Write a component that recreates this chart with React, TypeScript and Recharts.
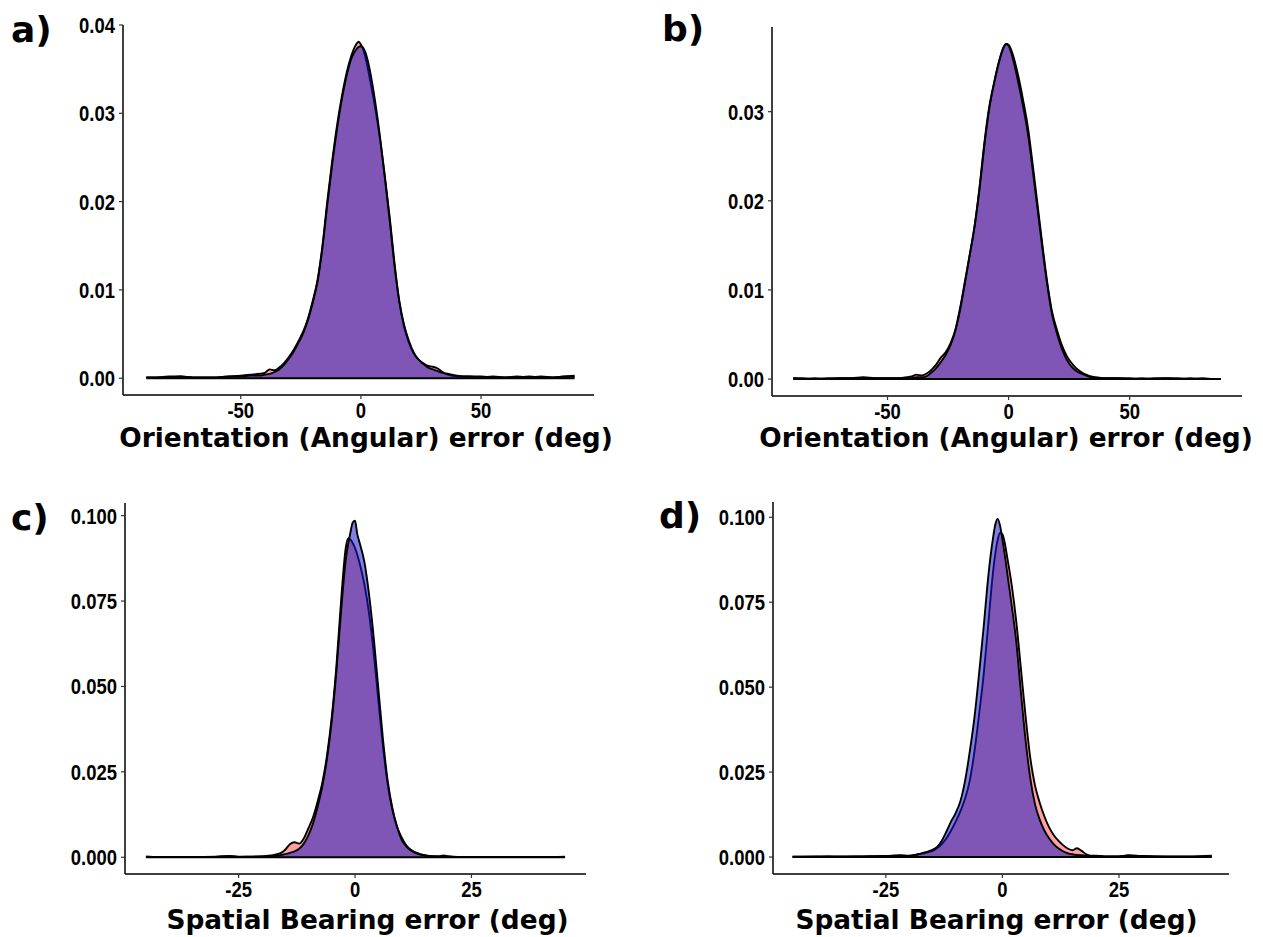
import { Area, AreaChart, ReferenceLine, XAxis, YAxis } from 'recharts';

// panel a: orientation error, first condition
const aX = [-89.3, -85, -80, -75, -70, -65, -60, -55, -50, -46, -42, -40, -38, -36, -34, -32, -30, -28, -26, -24, -22, -20, -18, -16, -14, -12, -10, -8, -6, -4, -2, -1, 0, 1, 2, 4, 6, 8, 10, 12, 14, 16, 18, 20, 22, 24, 26, 28, 30, 32, 34, 36, 40, 45, 50, 55, 60, 65, 70, 75, 80, 85, 88.9];
const aRed = [0.0001, 0.0001, 0.0002, 0.0002, 0.0001, 0.0001, 0.0001, 0.0002, 0.0003, 0.0004, 0.0005, 0.0006, 0.001, 0.0009, 0.0012, 0.0017, 0.0024, 0.0032, 0.0042, 0.0053, 0.0068, 0.0088, 0.0112, 0.015, 0.02, 0.0245, 0.0285, 0.0318, 0.0345, 0.0365, 0.0378, 0.0381, 0.0378, 0.0372, 0.0362, 0.0335, 0.0305, 0.027, 0.0228, 0.0182, 0.013, 0.0086, 0.0058, 0.004, 0.0028, 0.0021, 0.0017, 0.0014, 0.0013, 0.0011, 0.0007, 0.0004, 0.0002, 0.0002, 0.0001, 0.0002, 0.0001, 0.0002, 0.0001, 0.0002, 0.0001, 0.0002, 0.0003];
const aBlue = [0.0001, 0.0001, 0.0001, 0.0002, 0.0001, 0.0001, 0.0001, 0.0002, 0.0002, 0.0003, 0.0003, 0.0004, 0.0005, 0.0007, 0.001, 0.0015, 0.0022, 0.003, 0.004, 0.0051, 0.0066, 0.0086, 0.011, 0.0148, 0.0196, 0.0241, 0.0281, 0.0315, 0.0342, 0.0362, 0.0372, 0.0375, 0.0376, 0.0374, 0.0368, 0.0345, 0.0312, 0.0272, 0.0226, 0.0178, 0.0127, 0.0087, 0.006, 0.0042, 0.0029, 0.0021, 0.0016, 0.0012, 0.001, 0.0008, 0.0006, 0.0005, 0.0003, 0.0002, 0.0002, 0.0001, 0.0001, 0.0001, 0.0002, 0.0001, 0.0001, 0.0002, 0.0002];

// panel b: orientation error, second condition
const bX = [-89, -85, -80, -75, -70, -65, -60, -55, -50, -46, -42, -40, -38, -36, -34, -32, -30, -28, -26, -24, -22, -20, -18, -16, -14, -12, -10, -8, -6, -4, -2, -1, 0, 1, 2, 4, 6, 8, 10, 12, 14, 16, 18, 20, 22, 24, 26, 28, 30, 32, 34, 36, 40, 45, 50, 55, 60, 65, 70, 75, 80, 85, 87.6];
const bRed = [0.0001, 0.0001, 0, 0.0001, 0.0001, 0.0001, 0.0002, 0.0001, 0.0001, 0.0001, 0.0002, 0.0003, 0.0005, 0.0004, 0.0006, 0.001, 0.0016, 0.0024, 0.003, 0.004, 0.0055, 0.008, 0.011, 0.014, 0.0172, 0.0215, 0.0265, 0.0305, 0.0332, 0.0355, 0.0372, 0.0376, 0.0375, 0.037, 0.0362, 0.034, 0.0313, 0.0282, 0.024, 0.0195, 0.015, 0.0108, 0.0075, 0.0055, 0.0038, 0.0026, 0.0018, 0.0012, 0.0008, 0.0005, 0.0003, 0.0002, 0.0001, 0.0001, 0.0001, 0, 0.0001, 0.0001, 0, 0.0001, 0, 0, 0];
const bBlue = [0.0001, 0, 0.0001, 0, 0.0001, 0.0001, 0.0001, 0.0001, 0.0001, 0.0001, 0.0001, 0.0001, 0.0002, 0.0002, 0.0003, 0.0007, 0.0012, 0.0019, 0.0027, 0.0038, 0.0054, 0.0078, 0.0108, 0.014, 0.0172, 0.0213, 0.0262, 0.0303, 0.0332, 0.0356, 0.0373, 0.0376, 0.0374, 0.0367, 0.0357, 0.0333, 0.0306, 0.0275, 0.0234, 0.019, 0.0146, 0.0105, 0.0072, 0.0051, 0.0034, 0.0022, 0.0014, 0.0009, 0.0006, 0.0004, 0.0002, 0.0001, 0.0001, 0.0001, 0, 0.0001, 0, 0.0001, 0.0001, 0, 0.0001, 0, 0];

// panel c: spatial bearing error, first condition
const cX = [-44.9, -40, -35, -30, -27, -25, -22, -20, -18, -17, -16, -15, -14, -13, -12, -11, -10, -9, -8, -7, -6, -5, -4, -3, -2, -1.5, -1, -0.5, 0, 0.5, 1, 2, 3, 4, 5, 6, 7, 8, 9, 10, 11, 12, 13, 14, 15, 16, 18, 19, 20, 22, 25, 30, 35, 40, 45.1];
const cRed = [0.0002, 0.0001, 0.0001, 0.0002, 0.0004, 0.0002, 0.0002, 0.0003, 0.0005, 0.0008, 0.0012, 0.0022, 0.0038, 0.0044, 0.004, 0.0055, 0.0085, 0.0118, 0.0165, 0.022, 0.03, 0.041, 0.056, 0.075, 0.0905, 0.0933, 0.093, 0.092, 0.0905, 0.0885, 0.086, 0.08, 0.0715, 0.06, 0.046, 0.0325, 0.0215, 0.014, 0.009, 0.0058, 0.0035, 0.0022, 0.0014, 0.0009, 0.0006, 0.0004, 0.0003, 0.0005, 0.0003, 0.0001, 0.0001, 0.0001, 0.0001, 0.0001, 0.0002];
const cBlue = [0.0002, 0.0001, 0.0001, 0.0001, 0.0002, 0.0001, 0.0002, 0.0002, 0.0003, 0.0004, 0.0006, 0.0009, 0.0013, 0.0017, 0.0025, 0.004, 0.0065, 0.01, 0.015, 0.021, 0.029, 0.04, 0.0545, 0.072, 0.087, 0.0915, 0.095, 0.098, 0.0985, 0.0945, 0.092, 0.0865, 0.077, 0.0645, 0.0495, 0.0345, 0.0225, 0.0145, 0.009, 0.0052, 0.0032, 0.002, 0.0012, 0.0008, 0.0005, 0.0003, 0.0002, 0.0003, 0.0002, 0.0001, 0.0001, 0.0001, 0.0001, 0.0001, 0.0001];

// panel d: spatial bearing error, second condition
const dX = [-45, -40, -35, -30, -25, -22, -20, -18, -17, -16, -15, -14, -13, -12, -11, -10, -9, -8, -7, -6, -5, -4, -3, -2, -1.5, -1, -0.5, 0, 0.5, 1, 2, 3, 4, 5, 6, 7, 8, 9, 10, 11, 12, 13, 14, 15, 16, 17, 18, 19, 20, 22, 25, 27, 30, 35, 40, 44.9];
const dRed = [0.0001, 0.0001, 0.0002, 0.0002, 0.0003, 0.0004, 0.0003, 0.0008, 0.0011, 0.0014, 0.0018, 0.0026, 0.0038, 0.0055, 0.0078, 0.0105, 0.0135, 0.0172, 0.0225, 0.031, 0.042, 0.054, 0.069, 0.084, 0.0895, 0.0935, 0.0955, 0.095, 0.0925, 0.0885, 0.08, 0.069, 0.055, 0.041, 0.029, 0.021, 0.016, 0.012, 0.0088, 0.0065, 0.0048, 0.0035, 0.0025, 0.002, 0.0026, 0.0018, 0.0008, 0.0004, 0.0004, 0.0002, 0.0002, 0.0005, 0.0003, 0.0002, 0.0002, 0.0004];
const dBlue = [0.0001, 0.0002, 0.0001, 0.0002, 0.0003, 0.0005, 0.0004, 0.0008, 0.0012, 0.0016, 0.0021, 0.003, 0.0048, 0.0075, 0.0105, 0.013, 0.0165, 0.0225, 0.031, 0.041, 0.054, 0.068, 0.083, 0.094, 0.098, 0.0995, 0.0975, 0.0935, 0.089, 0.084, 0.074, 0.063, 0.048, 0.034, 0.023, 0.0155, 0.011, 0.0078, 0.0055, 0.0038, 0.0026, 0.0017, 0.0011, 0.0008, 0.0006, 0.0005, 0.0004, 0.0003, 0.0003, 0.0002, 0.0002, 0.0004, 0.0002, 0.0001, 0.0001, 0.0002];

const orientTicksX = [-50, 0, 50];
const orientTicksY = [0, 0.01, 0.02, 0.03, 0.04];
const bearingTicksX = [-25, 0, 25];
const bearingTicksY = [0, 0.025, 0.05, 0.075, 0.1];

const TICK_FONT = "'Liberation Sans', Arial, sans-serif";
const TITLE_FONT = "'DejaVu Sans', sans-serif";

const toRows = (xs: number[], red: number[], blue: number[]) =>
  xs.map((x, i) => ({ x, red: red[i], blue: blue[i] }));

// narrow bold tick labels, squeezed horizontally like the original figure
function makeTick(axis: 'x' | 'y', digits: number) {
  return (props: any) => {
    const { x, y, payload, textAnchor } = props;
    const label = axis === 'y' ? Number(payload.value).toFixed(digits) : String(payload.value);
    return (
      <text
        transform={`translate(${x},${y}) scale(0.84,1)`}
        textAnchor={textAnchor}
        dy={axis === 'y' ? '0.36em' : '0.72em'}
        style={{ fontFamily: TICK_FONT, fontSize: 22, fontWeight: 700, fill: '#000' }}
      >
        {label}
      </text>
    );
  };
}

interface PanelProps {
  title: string;
  xs: number[];
  red: number[];
  blue: number[];
  xDomain: [number, number];
  yDomain: [number, number];
  xTicks: number[];
  yTicks: number[];
  digits: number;
  left: number;
  top: number;
  width: number;
  height: number;
  yAxisWidth: number;
  xAxisHeight: number;
  marginTop: number;
  marginRight: number;
  titleDx: number;
  titleOffset: number;
}

function DensityPanel(p: PanelProps) {
  const data = toRows(p.xs, p.red, p.blue);
  const first = p.xs[0];
  const last = p.xs[p.xs.length - 1];

  const titleLabel = ({ viewBox }: any) => (
    <text
      x={viewBox.x + viewBox.width / 2 + p.titleDx}
      y={viewBox.y + viewBox.height - p.titleOffset}
      textAnchor="middle"
      style={{ fontFamily: TITLE_FONT, fontSize: 26.4, fontWeight: 700, fill: '#000' }}
    >
      {p.title}
    </text>
  );

  return (
    <div style={{ position: 'absolute', left: p.left, top: p.top }}>
      <AreaChart
        width={p.width}
        height={p.height}
        data={data}
        margin={{ top: p.marginTop, right: p.marginRight, left: 0, bottom: 0 }}
      >
        <XAxis
          type="number"
          dataKey="x"
          domain={p.xDomain}
          allowDataOverflow
          ticks={p.xTicks}
          height={p.xAxisHeight}
          tick={makeTick('x', 0)}
          tickSize={4}
          tickMargin={3}
          axisLine={{ stroke: '#000', strokeWidth: 1.5 }}
          tickLine={{ stroke: '#333', strokeWidth: 1.2 }}
          label={titleLabel}
        />
        <YAxis
          type="number"
          domain={p.yDomain}
          allowDataOverflow
          ticks={p.yTicks}
          width={p.yAxisWidth}
          tick={makeTick('y', p.digits)}
          tickSize={4}
          tickMargin={4}
          axisLine={{ stroke: '#000', strokeWidth: 1.5 }}
          tickLine={{ stroke: '#333', strokeWidth: 1.2 }}
        />
        <Area
          type="monotone"
          dataKey="red"
          baseValue={0}
          stroke="#000"
          strokeWidth={1.9}
          fill="#FF0000"
          fillOpacity={0.37}
          dot={false}
          activeDot={false}
          isAnimationActive={false}
        />
        <Area
          type="monotone"
          dataKey="blue"
          baseValue={0}
          stroke="#000"
          strokeWidth={1.9}
          fill="#1618C6"
          fillOpacity={0.55}
          dot={false}
          activeDot={false}
          isAnimationActive={false}
        />
        <ReferenceLine
          segment={[
            { x: first, y: 0 },
            { x: last, y: 0 },
          ]}
          stroke="#000"
          strokeWidth={2}
        />
      </AreaChart>
    </div>
  );
}

const letterStyle = { fontFamily: TITLE_FONT, fontSize: 36, fontWeight: 700, fill: '#000' };

export default function App() {
  return (
    <div
      style={{
        position: 'absolute',
        left: 0,
        top: 0,
        width: 1263,
        height: 937,
        background: '#fff',
        overflow: 'hidden',
      }}
    >
      <DensityPanel
        title="Orientation (Angular) error (deg)"
        xs={aX}
        red={aRed}
        blue={aBlue}
        xDomain={[-99, 97]}
        yDomain={[-0.0019, 0.04]}
        xTicks={orientTicksX}
        yTicks={orientTicksY}
        digits={2}
        left={0}
        top={0}
        width={620}
        height={465}
        yAxisWidth={123}
        xAxisHeight={70}
        marginTop={25}
        marginRight={26}
        titleDx={7.5}
        titleOffset={18}
      />
      <DensityPanel
        title="Orientation (Angular) error (deg)"
        xs={bX}
        red={bRed}
        blue={bBlue}
        xDomain={[-97.7, 96.4]}
        yDomain={[-0.0019, 0.0395]}
        xTicks={orientTicksX}
        yTicks={orientTicksY.slice(0, 4)}
        digits={2}
        left={630}
        top={0}
        width={633}
        height={465}
        yAxisWidth={142}
        xAxisHeight={69}
        marginTop={27}
        marginRight={21}
        titleDx={-1}
        titleOffset={18}
      />
      <DensityPanel
        title="Spatial Bearing error (deg)"
        xs={cX}
        red={cRed}
        blue={cBlue}
        xDomain={[-49.4, 49.6]}
        yDomain={[-0.0049, 0.1037]}
        xTicks={bearingTicksX}
        yTicks={bearingTicksY}
        digits={3}
        left={0}
        top={480}
        width={620}
        height={457}
        yAxisWidth={125}
        xAxisHeight={63}
        marginTop={23}
        marginRight={34}
        titleDx={12}
        titleOffset={8}
      />
      <DensityPanel
        title="Spatial Bearing error (deg)"
        xs={dX}
        red={dRed}
        blue={dBlue}
        xDomain={[-49.2, 48.6]}
        yDomain={[-0.005, 0.1045]}
        xTicks={bearingTicksX}
        yTicks={bearingTicksY}
        digits={3}
        left={630}
        top={480}
        width={633}
        height={457}
        yAxisWidth={143}
        xAxisHeight={63}
        marginTop={22}
        marginRight={34}
        titleDx={-4.5}
        titleOffset={8}
      />
      <svg
        width={1263}
        height={937}
        style={{ position: 'absolute', left: 0, top: 0, pointerEvents: 'none' }}
      >
        <text x={11} y={42} style={letterStyle}>a)</text>
        <text x={662} y={41} style={letterStyle}>b)</text>
        <text x={11} y={530} style={letterStyle}>c)</text>
        <text x={659} y={528} style={letterStyle}>d)</text>
      </svg>
    </div>
  );
}
